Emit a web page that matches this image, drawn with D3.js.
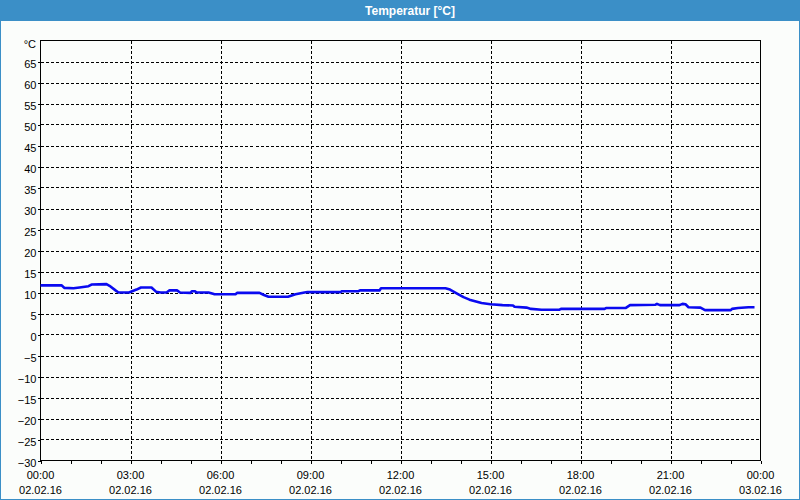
<!DOCTYPE html>
<html>
<head>
<meta charset="utf-8">
<script src="https://cdn.jsdelivr.net/npm/d3@7"></script>
<style>
  html, body { margin: 0; padding: 0; background: #fbfdfb; }
  svg { display: block; }
</style>
</head>
<body>
<svg id="chart" width="800" height="500"></svg>
<script>
// ---- data ----
const title = "Temperatur [°C]";
const unitLabel = "°C";
const day = "2016-02-02";
const times = ["00:00","00:42","00:48","01:06","01:18","01:36","01:42","02:12","02:18","02:30","02:36","02:57",
  "03:12","03:21","03:42","03:51","04:00","04:12","04:18","04:33","04:39","05:00","05:03","05:09","05:12","05:36",
  "05:45","05:48","06:30","06:33","07:18","07:27","07:36","08:15","08:30","08:48","08:54","10:00","10:03","10:36",
  "10:39","11:18","11:21","13:30","13:39","13:54","14:06","14:18","14:42","15:00","15:24","15:45","15:48","16:12",
  "16:21","16:42","17:18","17:21","18:48","18:51","19:30","19:39","20:30","20:33","20:39","21:18","21:24","21:30",
  "21:36","22:00","22:09","23:00","23:03","23:15","23:36","23:48"];
const temps = [11.7,11.7,11.1,11.0,11.2,11.5,11.9,12.0,11.6,10.5,10.0,10.0,
  10.7,11.2,11.2,10.2,10.0,10.0,10.5,10.5,10.0,9.9,10.3,10.3,10.0,10.0,
  9.7,9.6,9.6,9.9,9.9,9.4,9.0,9.0,9.6,10.0,10.1,10.1,10.3,10.3,
  10.5,10.5,11.0,11.0,10.7,9.7,8.9,8.3,7.5,7.2,7.0,6.9,6.6,6.4,
  6.1,5.9,5.9,6.1,6.1,6.3,6.3,7.0,7.1,7.3,7.0,7.0,7.3,7.2,
  6.5,6.4,5.8,5.8,6.1,6.3,6.5,6.5];
const yTicks = [-30,-25,-20,-15,-10,-5,0,5,10,15,20,25,30,35,40,45,50,55,60,65];
const yDomain = [-30, 70];
const xStart = "2016-02-02 00:00", xEnd = "2016-02-03 00:00";

// ---- setup ----
const W = 800, H = 500;
const mLeft = 40.5, mRight = 760.5, mTop = 40.5, mBottom = 460.5;
const blue = "#3b8fc7";
const parse = d3.timeParse("%Y-%m-%d %H:%M");
const data = times.map((t, i) => ({ t: parse(day + " " + t), v: temps[i] }));

const svg = d3.select("#chart");
svg.append("rect").attr("width", W).attr("height", H).attr("fill", "#fbfdfb");

// title bar and window frame
svg.append("rect").attr("x", 0).attr("y", 0).attr("width", W).attr("height", 21).attr("fill", blue);
svg.append("rect").attr("x", 0.5).attr("y", 0.5).attr("width", W - 1).attr("height", H - 1)
  .attr("fill", "none").attr("stroke", blue);
svg.append("text").attr("x", 410).attr("y", 14.5).attr("text-anchor", "middle")
  .attr("font-family", "Liberation Sans, Arial, sans-serif").attr("font-weight", "bold")
  .attr("font-size", 12).attr("fill", "#ffffff").text(title);

const x = d3.scaleTime().domain([parse(xStart), parse(xEnd)]).range([mLeft, mRight]);
const y = d3.scaleLinear().domain(yDomain).range([mBottom, mTop]);

const font = "Liberation Sans, Arial, sans-serif";

// grid
const grid = svg.append("g").attr("stroke", "#000").attr("stroke-width", 1)
  .attr("stroke-dasharray", "3,2").attr("shape-rendering", "crispEdges");
grid.selectAll("line.h").data(yTicks.filter(v => v > yDomain[0])).join("line")
  .attr("x1", mLeft).attr("x2", mRight)
  .attr("y1", d => Math.round(y(d)) + 0.5).attr("y2", d => Math.round(y(d)) + 0.5);
const majorTicks = x.ticks(d3.timeHour.every(3));
grid.selectAll("line.v").data(majorTicks.filter((d, i) => i > 0 && i < majorTicks.length - 1)).join("line")
  .attr("y1", mTop).attr("y2", mBottom)
  .attr("x1", d => Math.round(x(d)) + 0.5).attr("x2", d => Math.round(x(d)) + 0.5);

// y axis
const yAxis = d3.axisLeft(y).tickValues(yTicks).tickSize(3).tickPadding(2).tickFormat(d3.format("d"));
const gy = svg.append("g").attr("transform", `translate(${mLeft},0)`).call(yAxis);
gy.select(".domain").remove();
gy.selectAll(".tick line").attr("stroke", "#000").attr("shape-rendering", "crispEdges");
gy.selectAll(".tick text").attr("font-family", font).attr("font-size", 11).attr("fill", "#000")
  .attr("dy", "6").attr("x", -4);
svg.append("text").attr("x", 36).attr("y", 48).attr("text-anchor", "end")
  .attr("font-family", font).attr("font-size", 11).attr("fill", "#000").text(unitLabel);

// x axis
const xAxis = d3.axisBottom(x).ticks(d3.timeHour.every(1)).tickSize(3).tickFormat("");
const gx = svg.append("g").attr("transform", `translate(0,${mBottom})`).call(xAxis);
gx.select(".domain").remove();
gx.selectAll(".tick line").attr("stroke", "#000").attr("shape-rendering", "crispEdges");
const fmtT = d3.timeFormat("%H:%M"), fmtD = d3.timeFormat("%d.%m.%y");
const lab = svg.append("g").attr("font-family", font).attr("font-size", 11).attr("fill", "#000")
  .attr("text-anchor", "middle");
lab.selectAll("text.t").data(majorTicks).join("text")
  .attr("x", d => x(d)).attr("y", 479).text(d => fmtT(d));
lab.selectAll("text.d").data(majorTicks).join("text")
  .attr("x", d => x(d)).attr("y", 494).text(d => fmtD(d));

// plot frame
svg.append("rect").attr("x", mLeft).attr("y", mTop).attr("width", mRight - mLeft).attr("height", mBottom - mTop)
  .attr("fill", "none").attr("stroke", "#000").attr("shape-rendering", "crispEdges");

// line
const line = d3.line().x(d => x(d.t)).y(d => y(d.v)).curve(d3.curveLinear);
svg.append("path").datum(data).attr("d", line).attr("fill", "none")
  .attr("stroke", "#0a0af0").attr("stroke-width", 2.6).attr("stroke-linejoin", "round");
</script>
</body>
</html>
